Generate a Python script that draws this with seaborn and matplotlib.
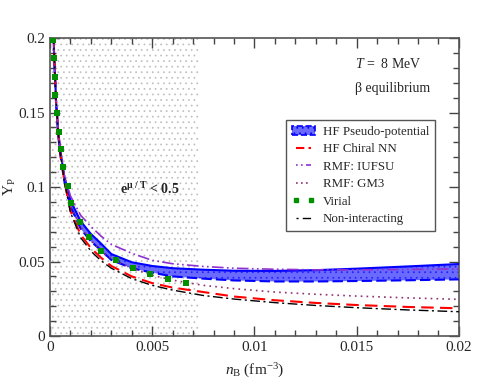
import numpy as np
import pandas as pd
import seaborn as sns
import matplotlib.pyplot as plt
from matplotlib.patches import Patch
from matplotlib.lines import Line2D

# baryon density grid (fm^-3)
n_b = [0.00015, 0.0002, 0.0003, 0.0004, 0.0005, 0.0007, 0.001, 0.0015, 0.002, 0.0025, 0.003,
       0.004, 0.005, 0.006, 0.0075, 0.009, 0.011, 0.013, 0.015, 0.0175, 0.02]

pseudo_top = [0.215, 0.19, 0.157, 0.138, 0.125, 0.107, 0.091, 0.077, 0.0685, 0.062, 0.055,
              0.0495, 0.047, 0.0455, 0.0445, 0.0438, 0.0437, 0.0442, 0.0452, 0.0467, 0.0483]
pseudo_bot = [0.213, 0.188, 0.155, 0.135, 0.122, 0.104, 0.087, 0.072, 0.0635, 0.0575, 0.051,
              0.0455, 0.0425, 0.040, 0.0385, 0.0373, 0.0366, 0.0366, 0.0369, 0.0374, 0.038]
chiral = [0.215, 0.19, 0.157, 0.137, 0.123, 0.104, 0.084, 0.068, 0.059, 0.0525, 0.047,
          0.040, 0.0355, 0.0325, 0.0295, 0.0265, 0.024, 0.0222, 0.0208, 0.0195, 0.0186]
iufsu = [0.215, 0.19, 0.158, 0.139, 0.126, 0.108, 0.094, 0.081, 0.0735, 0.067, 0.0615,
         0.0555, 0.0508, 0.0485, 0.0467, 0.0455, 0.0448, 0.0444, 0.0444, 0.0447, 0.045]
gm3 = [0.215, 0.19, 0.157, 0.138, 0.124, 0.106, 0.087, 0.0735, 0.064, 0.057, 0.052,
       0.0455, 0.0408, 0.0375, 0.034, 0.0318, 0.0295, 0.028, 0.0268, 0.0256, 0.0246]
free = [0.215, 0.19, 0.157, 0.137, 0.123, 0.104, 0.083, 0.066, 0.057, 0.0505, 0.0455,
        0.0385, 0.034, 0.0308, 0.0272, 0.0248, 0.0224, 0.0205, 0.019, 0.0175, 0.0163]

virial_n = [0.00017, 0.00019, 0.00023, 0.00026, 0.00034, 0.00042, 0.00052, 0.00065, 0.00088,
            0.00103, 0.00145, 0.00189, 0.00251, 0.00324, 0.00406, 0.00488, 0.00577, 0.00665]
virial_y = [0.1987, 0.1864, 0.174, 0.1617, 0.1494, 0.1371, 0.1253, 0.1132, 0.1007,
            0.089, 0.0767, 0.0662, 0.0572, 0.051, 0.0454, 0.0414, 0.038, 0.0358]

fugacity_edge = 0.0073

df = pd.DataFrame({'n': n_b, 'top': pseudo_top, 'bot': pseudo_bot, 'chiral': chiral,
                   'iufsu': iufsu, 'gm3': gm3, 'free': free})
vir = pd.DataFrame({'n': virial_n, 'Y': virial_y})

sns.set_style('ticks')
plt.rcParams['font.family'] = ['Liberation Serif', 'DejaVu Serif']
plt.rcParams['mathtext.fontset'] = 'custom'
plt.rcParams['mathtext.rm'] = 'Liberation Serif'
plt.rcParams['mathtext.it'] = 'Liberation Serif:italic'
plt.rcParams['mathtext.bf'] = 'Liberation Serif:bold'
plt.rcParams['hatch.linewidth'] = 0.5

fig = plt.figure(figsize=(4.95, 3.83), dpi=100)
ax = fig.add_axes([0.101, 0.1227, 0.826, 0.778])

# region where e^{mu/T} < 0.5
ax.axvspan(0, fugacity_edge, facecolor='none', hatch='...', edgecolor='#bdbdbd', lw=0, zorder=0)

ax.fill_between(df['n'], df['bot'], df['top'], facecolor='#6a6aff', edgecolor='#2020ff',
                hatch='...', lw=0, zorder=2)
sns.lineplot(data=df, x='n', y='top', color='#0000ff', lw=1.5, ax=ax, zorder=3)
sns.lineplot(data=df, x='n', y='bot', color='#0000ff', lw=1.5, ax=ax, zorder=3,
             linestyle=(0, (5, 2)))
sns.lineplot(data=df, x='n', y='chiral', color='#ff0000', lw=1.5, ax=ax, zorder=4,
             linestyle=(0, (6, 3)))
sns.lineplot(data=df, x='n', y='iufsu', color='#9030d0', lw=1.2, ax=ax, zorder=4,
             linestyle=(0, (7, 2, 1, 2, 1, 2)))
sns.lineplot(data=df, x='n', y='gm3', color='#903070', lw=1.2, ax=ax, zorder=4,
             linestyle=(0, (1, 2.5)))
sns.lineplot(data=df, x='n', y='free', color='black', lw=1.0, ax=ax, zorder=4,
             linestyle=(0, (7, 2.5, 1.5, 2.5)))
sns.scatterplot(data=vir, x='n', y='Y', color='#009000', marker='s', s=22, linewidth=0,
                ax=ax, zorder=5)

handles = [
    Patch(facecolor='#6a6aff', edgecolor='#0000ff', hatch='...', linestyle='--', lw=1.2),
    Line2D([], [], color='#ff0000', lw=1.5, linestyle=(0, (4, 2))),
    Line2D([], [], color='#9030d0', lw=1.2, linestyle=(0, (1, 2, 1, 2, 5, 2))),
    Line2D([], [], color='#903070', lw=1.2, linestyle=(0, (1, 2))),
    Line2D([], [], color='#009000', marker='s', markersize=3.5, lw=0),
    Line2D([], [], color='black', lw=1.0, linestyle=(0, (1.5, 3, 6, 3))),
]
labels = ['HF Pseudo-potential', 'HF Chiral NN', 'RMF: IUFSU', 'RMF: GM3', 'Virial',
          'Non-interacting']
leg = ax.legend(handles, labels, loc='upper left', bbox_to_anchor=(0.577, 0.725),
                fontsize=9.3, frameon=True, fancybox=False, edgecolor='#555555',
                handlelength=1.8, handletextpad=0.6, labelspacing=0.42, borderpad=0.45,
                borderaxespad=0, framealpha=1, numpoints=2)
leg.get_frame().set_linewidth(1.0)

ax.text(0.0149, 0.18, r'$T$ =  8 MeV', fontsize=10)
ax.text(0.0149, 0.164, 'β equilibrium', fontsize=10)
ax.text(0.0034, 0.095, r'$\mathbf{e}^{\mathbf{\mu\ /\ T}}$ < 0.5', fontsize=10, fontweight='bold')

ax.set_xlim(0, 0.02)
ax.set_ylim(0, 0.2)
ax.set_xticks([0, 0.005, 0.01, 0.015, 0.02])
ax.set_xticklabels(['0', '0.005', '0.01', '0.015', '0.02'])
ax.set_yticks([0, 0.05, 0.1, 0.15, 0.2])
ax.set_yticklabels(['0', '0.05', '0.1', '0.15', '0.2'])
ax.set_xticks(np.arange(0, 0.0201, 0.001), minor=True)
ax.set_yticks(np.arange(0, 0.201, 0.01), minor=True)
ax.tick_params(which='both', direction='in', top=True, right=True, labelsize=11,
               color='#444444')
ax.tick_params(which='major', length=7, width=1)
ax.tick_params(which='minor', length=4, width=1)
for sp in ax.spines.values():
    sp.set_color('#555555')
    sp.set_linewidth(1.2)

ax.set_xlabel(r'$n_{\rm B}$ (fm$^{-3}$)', fontsize=11, labelpad=6)
ax.set_ylabel(r'Y$_{\rm P}$', fontsize=11)
ax.yaxis.set_label_coords(-0.078, 0.5)

fig.savefig('out.png', dpi=100)
